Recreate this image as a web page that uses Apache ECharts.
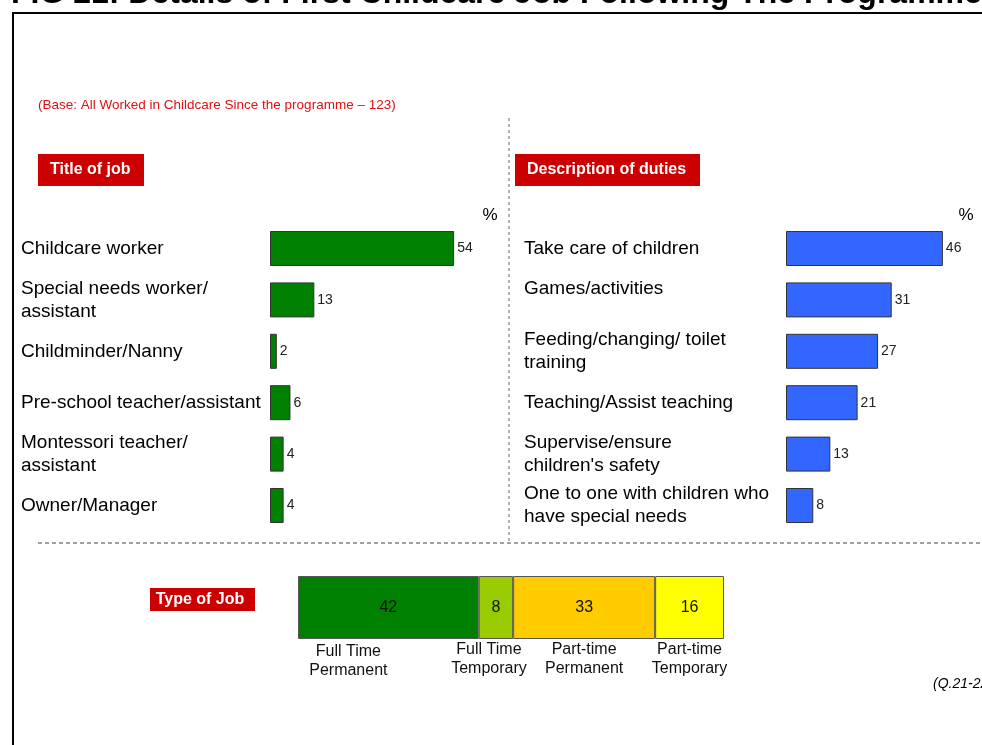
<!DOCTYPE html>
<html>
<head>
<meta charset="utf-8">
<script src="https://cdn.jsdelivr.net/npm/echarts@6/dist/echarts.min.js"></script>
<style>
  html, body { margin: 0; padding: 0; background: #fff; }
  #main { width: 982px; height: 745px; }
</style>
</head>
<body>
<div id="main"></div>
<script>
// data
var jobTitles = ['Childcare worker', 'Special needs worker/\nassistant', 'Childminder/Nanny',
  'Pre-school teacher/assistant', 'Montessori teacher/\nassistant', 'Owner/Manager'];
var jobValues = [54, 13, 2, 6, 4, 4];

var duties = ['Take care of children', 'Games/activities\n', 'Feeding/changing/ toilet\ntraining',
  'Teaching/Assist teaching', 'Supervise/ensure\nchildren\'s safety', 'One to one with children who\nhave special needs'];
var dutyValues = [46, 31, 27, 21, 13, 8];

var jobTypes = ['Full Time\nPermanent', 'Full Time\nTemporary', 'Part-time\nPermanent', 'Part-time\nTemporary'];
var jobTypeValues = [42, 8, 33, 16];
var jobTypeColors = ['#008000', '#99cc00', '#ffcc00', '#ffff00'];

var FONT = "'Liberation Sans', Arial, sans-serif";
var myChart = echarts.init(document.getElementById('main'));

function catAxis(idx, data, margin) {
  return {
    type: 'category', gridIndex: idx, data: data, inverse: true,
    axisLine: { show: false }, axisTick: { show: false },
    axisLabel: {
      show: margin > 0, interval: 0, align: 'left', margin: margin,
      fontFamily: FONT, fontSize: 19, lineHeight: 23, color: '#000'
    }
  };
}
function valAxis(idx, max) {
  return { type: 'value', gridIndex: idx, min: 0, max: max, show: false, splitLine: { show: false } };
}
function hbar(idx, data, color) {
  return {
    type: 'bar', xAxisIndex: idx, yAxisIndex: idx, data: data, barWidth: 35,
    itemStyle: { color: color, borderColor: '#333', borderWidth: 1 },
    label: { show: true, position: 'right', distance: 3, fontFamily: FONT, fontSize: 14, color: '#222' },
    silent: true
  };
}

var series = [hbar(0, jobValues, '#008000'), hbar(1, dutyValues, '#3366ff')];
// the stacked bar
jobTypeValues.forEach(function (v, i) {
  series.push({
    type: 'bar', xAxisIndex: 2, yAxisIndex: 2, stack: 'type', barWidth: 63, data: [v],
    itemStyle: { color: jobTypeColors[i], borderColor: '#555', borderWidth: 1 },
    label: { show: true, position: 'inside', fontFamily: FONT, fontSize: 16, color: '#111' },
    silent: true
  });
});
// names under the stacked bar (transparent row, same values)
var nameOffsets = [[-40, 2.5], [-7, 0], [0, 0], [0, 0]];
jobTypeValues.forEach(function (v, i) {
  series.push({
    type: 'bar', xAxisIndex: 3, yAxisIndex: 3, stack: 'names', barWidth: 30, data: [v],
    itemStyle: { color: 'rgba(0,0,0,0)' },
    label: {
      show: true, position: 'inside', formatter: jobTypes[i], offset: nameOffsets[i],
      fontFamily: FONT, fontSize: 16, lineHeight: 19, color: '#111'
    },
    silent: true
  });
});

var option = {
  animation: false,
  grid: [
    { left: 270, top: 222.8, width: 3.41 * 57, height: 308.4, outerBoundsMode: 'none' },
    { left: 786, top: 222.8, width: 3.41 * 57, height: 308.4, outerBoundsMode: 'none' },
    { left: 298, top: 576, width: 430.3, height: 63, outerBoundsMode: 'none' },
    { left: 298, top: 640, width: 430.3, height: 38, outerBoundsMode: 'none' }
  ],
  xAxis: [valAxis(0, 57), valAxis(1, 57), valAxis(2, 100), valAxis(3, 100)],
  yAxis: [catAxis(0, jobTitles, 249), catAxis(1, duties, 262), catAxis(2, ['Type'], 0), catAxis(3, ['Names'], 0)],
  series: series,
  graphic: [
    // frame
    { type: 'rect', z: 0, shape: { x: 13, y: 13, width: 1100, height: 800 },
      style: { fill: null, stroke: '#000', lineWidth: 2 } },
    { type: 'text', x: 11, y: -5.5,
      style: { text: 'FIG 21: Details of First Childcare Job Following The Programme',
        font: 'bold 32px ' + FONT, fill: '#000', verticalAlign: 'middle' } },
    { type: 'text', x: 38, y: 105,
      style: { text: '(Base: All Worked in Childcare Since the programme \u2013 123)',
        font: '13.5px ' + FONT, fill: '#e01010', verticalAlign: 'middle' } },
    // section headers
    { type: 'rect', shape: { x: 38, y: 154, width: 106, height: 32 }, style: { fill: '#cc0000' } },
    { type: 'text', x: 50, y: 170,
      style: { text: 'Title of job', font: 'bold 16px ' + FONT, fill: '#fff', verticalAlign: 'middle' } },
    { type: 'rect', shape: { x: 515, y: 154, width: 185, height: 32 }, style: { fill: '#cc0000' } },
    { type: 'text', x: 527, y: 170,
      style: { text: 'Description of duties', font: 'bold 16px ' + FONT, fill: '#fff', verticalAlign: 'middle' } },
    { type: 'rect', shape: { x: 150, y: 588, width: 105, height: 23 }, style: { fill: '#cc0000' } },
    { type: 'text', x: 200, y: 599.5,
      style: { text: 'Type of Job', font: 'bold 16px ' + FONT, fill: '#fff', align: 'center', verticalAlign: 'middle' } },
    // percent marks
    { type: 'text', x: 490, y: 215,
      style: { text: '%', font: '17px ' + FONT, fill: '#000', align: 'center', verticalAlign: 'middle' } },
    { type: 'text', x: 966, y: 215,
      style: { text: '%', font: '17px ' + FONT, fill: '#000', align: 'center', verticalAlign: 'middle' } },
    // dividers
    { type: 'line', shape: { x1: 509, y1: 118, x2: 509, y2: 543 },
      style: { stroke: '#666', lineWidth: 1, lineDash: [3, 3] } },
    { type: 'line', shape: { x1: 38, y1: 543, x2: 990, y2: 543 },
      style: { stroke: '#444', lineWidth: 1, lineDash: [4, 3] } },
    { type: 'text', x: 933, y: 684,
      style: { text: '(Q.21-22)', font: 'italic 14px ' + FONT, fill: '#000', verticalAlign: 'middle' } }
  ]
};
myChart.setOption(option);
</script>
</body>
</html>
